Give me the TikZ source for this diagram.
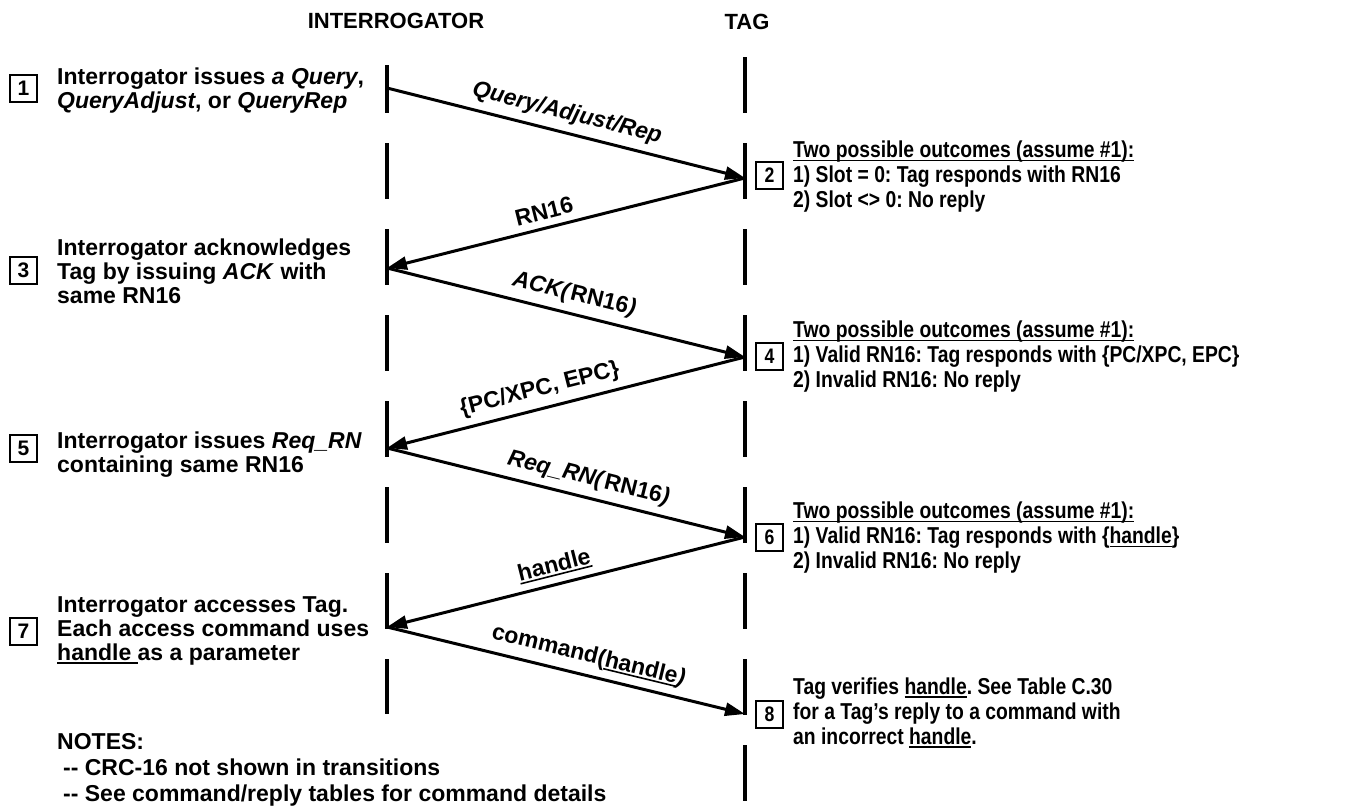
\documentclass[tikz,border=0pt]{standalone}
\usepackage{fontspec}
\setmainfont{Liberation Sans}
\newfontfamily\narrowfont{Liberation Sans}[FakeStretch=0.84]
\newcommand\myul[1]{\setbox0\hbox{#1}\rlap{\rule[-3.5pt]{\wd0}{1.6pt}}\box0}
\usetikzlibrary{arrows.meta}
\frenchspacing
\begin{document}
\begin{tikzpicture}[x=1pt,y=-1pt,
  life/.style={line width=4pt, dash pattern=on 56pt off 30pt},
  msg/.style={line width=3pt, -{Triangle[length=20pt,width=13pt]}},
  lbl/.style={font=\fontsize{23}{25}\selectfont\bfseries, sloped, above, inner sep=7pt},
  lefttxt/.style={anchor=west, align=left, font=\fontsize{23}{24}\selectfont\bfseries, inner sep=0pt},
  righttxt/.style={anchor=west, align=left, font=\fontsize{23}{25}\selectfont\narrowfont\bfseries, inner sep=0pt},
  numbox/.style={draw, line width=2pt, minimum width=27pt, minimum height=27pt, inner sep=0pt, font=\fontsize{21}{21}\selectfont\bfseries},
  rnumbox/.style={numbox, font=\fontsize{21}{21}\selectfont\narrowfont\bfseries},
  header/.style={font=\fontsize{22}{22}\selectfont\bfseries}]
\useasboundingbox (0,0) rectangle (1360,806);

% headers
\node[header] (hi) at (396,21) {INTERROGATOR};
\node[header] (ht) at (747,22) {TAG};

% lifelines
\coordinate (itop) at (387,65);
\coordinate (ibot) at (387,714);
\coordinate (ttop) at (745,57);
\coordinate (tbot) at (745,801);
\draw[life, dash phase=8pt] (itop) -- (ibot);
\draw[life] (ttop) -- (tbot);

% message points
\coordinate (i1) at (387,88);
\coordinate (t1) at (745,178);
\coordinate (i2) at (387,268);
\coordinate (t2) at (745,357);
\coordinate (i3) at (387,448);
\coordinate (t3) at (745,537);
\coordinate (i4) at (387,627);
\coordinate (t4) at (745,714);

\draw[msg] (i1) -- (t1) node[lbl, pos=0.49] {\itshape Query/Adjust/Rep};
\draw[msg] (t1) -- (i2) node[lbl, pos=0.55] {RN16};
\draw[msg] (i2) -- (t2) node[lbl, pos=0.51] {\textit{ACK(}RN16\textit{)}};
\draw[msg] (t2) -- (i3) node[lbl, pos=0.56] {\{PC/XPC, EPC\}};
\draw[msg] (i3) -- (t3) node[lbl, pos=0.55] {\textit{Req\_RN(}RN16\textit{)}};
\draw[msg] (t3) -- (i4) node[lbl, pos=0.52] {\myul{handle}};
\draw[msg] (i4) -- (t4) node[lbl, pos=0.55] {command(\myul{handle}\textit{)}};

% left side
\node[numbox] (b1) at (23.5,88) {1};
\node[lefttxt] (l1) at (57,91) {Interrogator issues \textit{a Query},\\\textit{QueryAdjust}, or \textit{QueryRep}};
\node[numbox] (b3) at (23.5,270) {3};
\node[lefttxt] (l3) at (57,271) {Interrogator acknowledges\\Tag by issuing \textit{ACK} with\\same RN16};
\node[numbox] (b5) at (23.5,448) {5};
\node[lefttxt] (l5) at (57,455) {Interrogator issues \textit{Req\_RN}\\containing same RN16};
\node[numbox] (b7) at (23.5,631) {7};
\node[lefttxt] (l7) at (57,631) {Interrogator accesses Tag.\\Each access command uses\\\myul{handle\ }as a parameter};
\node[lefttxt, font=\fontsize{23}{26}\selectfont\bfseries] (notes) at (57,770) {NOTES:\\\hspace*{6pt}-{}- CRC-16 not shown in transitions\\\hspace*{6pt}-{}- See command/reply tables for command details};

% right side
\node[rnumbox] (b2) at (769.5,175) {2};
\node[righttxt] (r2) at (793,177) {\myul{Two possible outcomes (assume \#1):}\\1) Slot = 0: Tag responds with RN16\\2) Slot <> 0: No reply};
\node[rnumbox] (b4) at (769.5,356) {4};
\node[righttxt] (r4) at (793,357) {\myul{Two possible outcomes (assume \#1):}\\1) Valid RN16: Tag responds with \{PC/XPC, EPC\}\\2) Invalid RN16: No reply};
\node[rnumbox] (b6) at (769.5,537) {6};
\node[righttxt] (r6) at (793,538) {\myul{Two possible outcomes (assume \#1):}\\1) Valid RN16: Tag responds with \{\myul{handle}\}\\2) Invalid RN16: No reply};
\node[rnumbox] (b8) at (769.5,714) {8};
\node[righttxt] (r8) at (793,713) {Tag verifies \myul{handle}. See Table C.30\\for a Tag’s reply to a command with\\an incorrect \myul{handle}.};
\end{tikzpicture}
\end{document}
